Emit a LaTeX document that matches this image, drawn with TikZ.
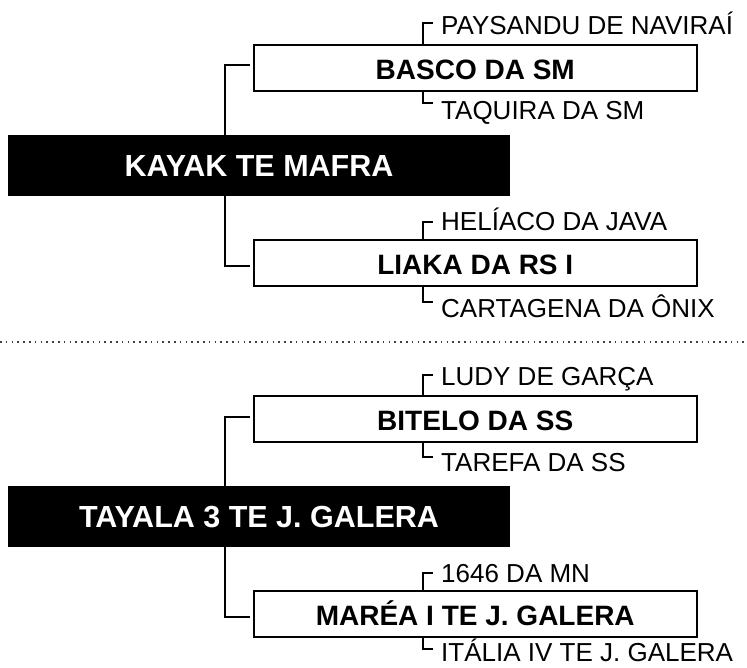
\documentclass[tikz,border=0pt]{standalone}
\usepackage{fontspec}
\setmainfont{Liberation Sans}
\begin{document}
\begin{tikzpicture}[x=1pt,y=-1pt,
  titlebox/.style={fill=black,text=white,inner sep=0pt,
    minimum width=502pt,minimum height=61pt,text height=22pt,text depth=0pt,
    font=\bfseries\fontsize{30.5}{30.5}\selectfont},
  subbox/.style={draw=black,fill=white,line width=2pt,inner sep=0pt,
    minimum width=443.5pt,minimum height=45.8pt,text height=23pt,text depth=0pt,
    font=\bfseries\fontsize{28}{28}\selectfont},
  lbl/.style={anchor=base west,inner sep=0pt,font=\fontsize{26}{26}\selectfont},
  conn/.style={line width=2pt,draw=black},
  sep/.style={line width=1.6pt,draw=black!75,dash pattern=on 1.6pt off 4.2pt}]
\useasboundingbox (0,0) rectangle (747,667);

% ---------- top group ----------
\node[subbox] (basco) at (475.25,68.25) {BASCO DA SM};
\node[subbox] (liaka) at (475.25,263.2) {LIAKA DA RS I};
\coordinate (j1) at (225,65);
\coordinate (j2) at (225,266);
\draw[conn,shorten <=3pt,shorten >=3pt] (basco.west |- j1) -- (j1) -- (j2) -- (liaka.west |- j2);
\node[titlebox] (kayak) at (259,165.5) {KAYAK TE MAFRA};

\node[lbl] (paysandu) at (441,34.5) {PAYSANDU DE NAVIRAÍ};
\coordinate (b1) at (422.7,23.3);
\coordinate (b1e) at (433,23.3);
\draw[conn] (basco.north -| b1) -- (b1) -- (b1e);

\node[lbl] (taquira) at (441,119) {TAQUIRA DA SM};
\coordinate (b2) at (422.7,103.3);
\coordinate (b2e) at (433,103.3);
\draw[conn] (basco.south -| b2) -- (b2) -- (b2e);

\node[lbl] (heliaco) at (441,230.7) {HELÍACO DA JAVA};
\coordinate (b3) at (422.7,221.7);
\coordinate (b3e) at (433,221.7);
\draw[conn] (liaka.north -| b3) -- (b3) -- (b3e);

\node[lbl] (cartagena) at (441,317.3) {CARTAGENA DA ÔNIX};
\coordinate (b4) at (422.7,301.7);
\coordinate (b4e) at (433,301.7);
\draw[conn] (liaka.south -| b4) -- (b4) -- (b4e);

% ---------- separator ----------
\coordinate (s1) at (0,341.7);
\coordinate (s2) at (747,341.7);
\draw[sep] (s1) -- (s2);

% ---------- bottom group ----------
\node[subbox] (bitelo) at (475.25,419.35) {BITELO DA SS};
\node[subbox] (marea) at (475.25,614) {MARÉA I TE J. GALERA};
\coordinate (j3) at (225,416.5);
\coordinate (j4) at (225,617);
\draw[conn,shorten <=3pt,shorten >=3pt] (bitelo.west |- j3) -- (j3) -- (j4) -- (marea.west |- j4);
\node[titlebox] (tayala) at (259,516.3) {TAYALA 3 TE J. GALERA};

\node[lbl] (ludy) at (441,385) {LUDY DE GARÇA};
\coordinate (b5) at (422.7,375);
\coordinate (b5e) at (433,375);
\draw[conn] (bitelo.north -| b5) -- (b5) -- (b5e);

\node[lbl] (tarefa) at (441,471.7) {TAREFA DA SS};
\coordinate (b6) at (422.7,456.7);
\coordinate (b6e) at (433,456.7);
\draw[conn] (bitelo.south -| b6) -- (b6) -- (b6e);

\node[lbl] (n1646) at (441,582.3) {1646 DA MN};
\coordinate (b7) at (422.7,572.7);
\coordinate (b7e) at (433,572.7);
\draw[conn] (marea.north -| b7) -- (b7) -- (b7e);

\node[lbl] (italia) at (441,661.5) {ITÁLIA IV TE J. GALERA};
\coordinate (b8) at (422.7,649);
\coordinate (b8e) at (433,649);
\draw[conn] (marea.south -| b8) -- (b8) -- (b8e);
\end{tikzpicture}
\end{document}
